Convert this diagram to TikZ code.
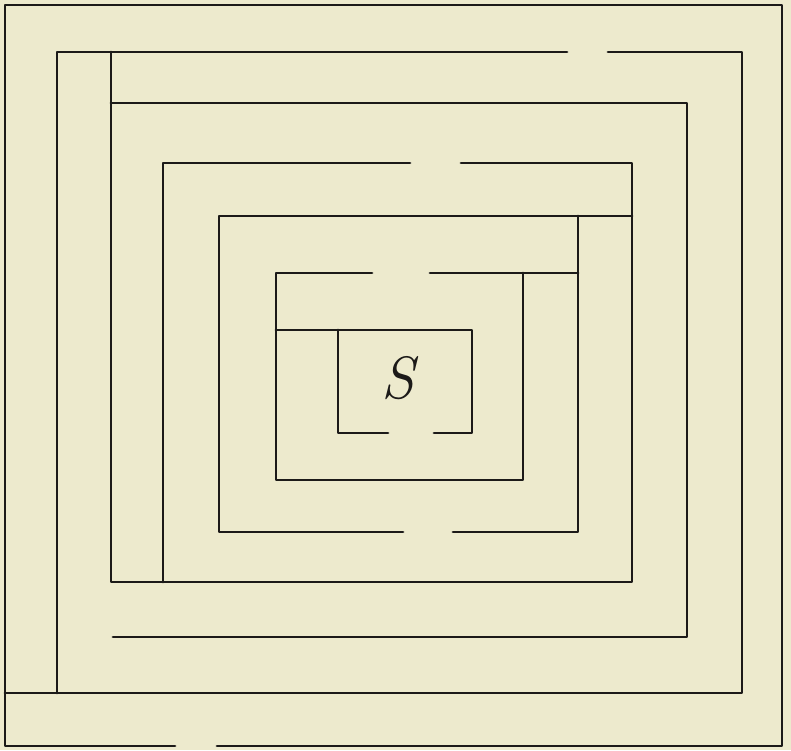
\documentclass[tikz,border=0pt]{standalone}
\usepackage{tikz}
\usetikzlibrary{positioning}
\definecolor{mazePaper}{RGB}{237, 234, 205}
\definecolor{mazeInk}{RGB}{28, 26, 24}

\begin{document}
\begin{tikzpicture}[line cap=round, line join=round]
        \fill[mazePaper] (0,0) rectangle (15.82,15.00);
        \useasboundingbox (0,0) rectangle (15.82,15.00);
        \tikzset{wall/.style={mazeInk, line width=1.6pt}}
        % outer wall
        \draw[wall] (3.50,0.08) -- (0.10,0.08) -- (0.10,14.90) -- (15.64,14.90) -- (15.64,0.08) -- (4.34,0.08);
        % first ring
        \draw[wall] (11.34,13.96) -- (1.14,13.96) -- (1.14,1.14);
        \draw[wall] (0.10,1.14) -- (14.84,1.14) -- (14.84,13.96) -- (12.16,13.96);
        % second ring
        \draw[wall] (2.22,12.94) -- (13.74,12.94) -- (13.74,2.26) -- (2.26,2.26);
        % third ring
        \draw[wall] (8.20,11.74) -- (3.26,11.74) -- (3.26,3.36);
        \draw[wall] (9.22,11.74) -- (12.64,11.74) -- (12.64,3.36) -- (2.22,3.36) -- (2.22,13.96);
        % fourth ring
        \draw[wall] (12.64,10.68) -- (4.38,10.68) -- (4.38,4.36) -- (8.06,4.36);
        \draw[wall] (9.06,4.36) -- (11.56,4.36) -- (11.56,10.68);
        % fifth ring
        \draw[wall] (7.44,9.54) -- (5.52,9.54) -- (5.52,5.40) -- (10.46,5.40) -- (10.46,9.54);
        \draw[wall] (8.60,9.54) -- (11.56,9.54);
        % goal box
        \draw[wall] (5.52,8.40) -- (9.44,8.40) -- (9.44,6.34) -- (8.68,6.34);
        \draw[wall] (7.76,6.34) -- (6.76,6.34) -- (6.76,8.40);
        \node[mazeInk, font=\fontsize{34}{34}\selectfont\itshape] (goal) at (7.96,7.44) {S};
    \end{tikzpicture}
\end{document}
